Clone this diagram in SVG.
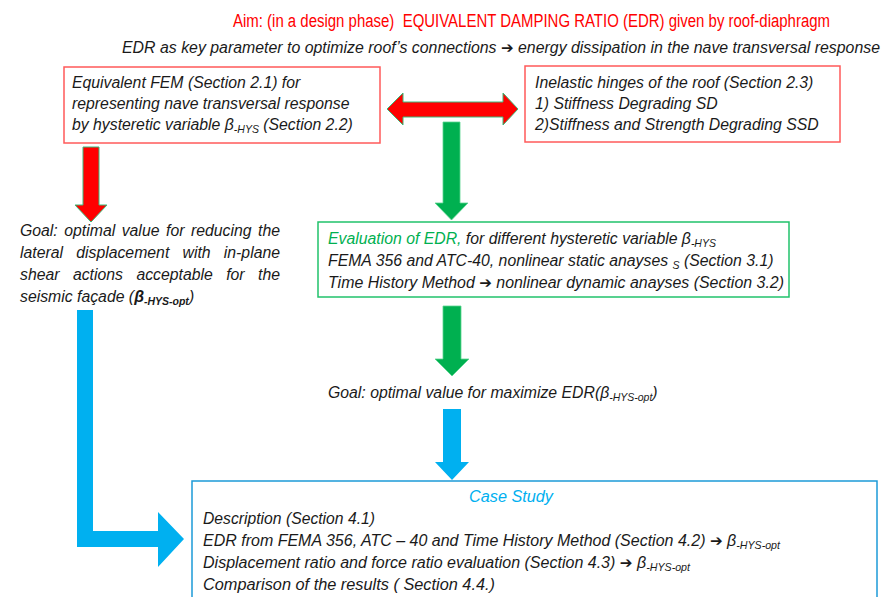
<svg xmlns="http://www.w3.org/2000/svg" width="882" height="597" viewBox="0 0 882 597">
<style>
text{font-family:"Liberation Sans",Arial,sans-serif;font-style:italic;font-size:15.8px;fill:#1a1a1a}
.title{font-style:normal;font-size:19px;fill:#ff0000}
.sub{font-size:10.5px}
.arr{font-family:"DejaVu Sans",sans-serif;font-style:normal;font-size:15px}
.green{fill:#00b050}
.blue{fill:#00b0f0}
.box-red{fill:#fff;stroke:#ff5a5a;stroke-width:1.5}
.box-green{fill:#fff;stroke:#21c26b;stroke-width:1.5}
.box-blue{fill:#fff;stroke:#1c9ad8;stroke-width:1.5}
.ar-red{fill:#ff0000;stroke:#3cb878;stroke-width:1}
.ar-green{fill:#00b050;stroke:#5ad690;stroke-width:0.8}
.ar-blue{fill:#00b0f0}
</style>
<rect width="882" height="597" fill="#fff"/>

<g id="title">
<text class="title" transform="translate(233,27) scale(0.788,1)" x="0" y="0">Aim: (in a design phase)&#160; EQUIVALENT DAMPING RATIO (EDR) given by roof-diaphragm</text>
<text x="122" y="53" font-size="16.5" textLength="758" lengthAdjust="spacingAndGlyphs">EDR as key parameter to optimize roof’s connections <tspan class="arr">➔</tspan> energy dissipation in the nave transversal response</text>
</g>

<g id="connectors">
<path class="ar-red" d="M387,109 L403,93 L403,102 L503,102 L503,93 L518,109 L503,125 L503,117 L403,117 L403,125 Z"/>
<path class="ar-green" d="M443,122 H460 V203 H468 L451.5,220 L435,203 H443 Z"/>
<path class="ar-red" d="M83,147 H99 V205 H107 L91,222 L75,205 H83 Z"/>
<path class="ar-green" d="M443,306 H461 V359 H469 L452,376 L435,359 H443 Z"/>
<path class="ar-blue" d="M443,409 H461 V462 H469 L452,480 L435,462 H443 Z"/>
<path class="ar-blue" d="M77,310 H93 V531 H158 V512 L184,539 L158,567 V547 H77 Z"/>
</g>

<g id="fem-box">
<rect class="box-red" x="64" y="67" width="316" height="76"/>
<text x="72" y="88">Equivalent FEM (Section 2.1) for</text>
<text x="72" y="109">representing nave transversal response</text>
<text x="72" y="130">by hysteretic variable β<tspan class="sub" dy="3">-HYS</tspan><tspan dy="-3"> (Section 2.2)</tspan></text>
</g>

<g id="hinges-box">
<rect class="box-red" x="525" y="66" width="315" height="76"/>
<text x="535" y="88">Inelastic hinges of the roof (Section 2.3)</text>
<text x="535" y="109">1) Stiffness Degrading SD</text>
<text x="535" y="130">2)Stiffness and Strength Degrading SSD</text>
</g>

<g id="goal-left">
<text y="236"><tspan x="20">Goal:</tspan><tspan x="64.3">optimal</tspan><tspan x="121.7">value</tspan><tspan x="166">for</tspan><tspan x="190.9">reducing</tspan><tspan x="258">the</tspan></text>
<text y="258"><tspan x="20">lateral</tspan><tspan x="76.2">displacement</tspan><tspan x="182.5">with</tspan><tspan x="223.8">in-plane</tspan></text>
<text y="280"><tspan x="20">shear</tspan><tspan x="72.9">actions</tspan><tspan x="136.4">acceptable</tspan><tspan x="226.2">for</tspan><tspan x="258">the</tspan></text>
<text x="20" y="302">seismic façade (<tspan font-weight="bold">β</tspan><tspan class="sub" font-weight="bold" dy="3">-HYS-opt</tspan><tspan dy="-3">)</tspan></text>
</g>

<g id="edr-box">
<rect class="box-green" x="318" y="222" width="471" height="75"/>
<text x="328" y="244"><tspan class="green">Evaluation of EDR,</tspan> for different hysteretic variable β<tspan class="sub" dy="3">-HYS</tspan></text>
<text x="328" y="266">FEMA 356 and ATC-40, nonlinear static anayses <tspan class="sub" dy="3">S</tspan><tspan dy="-3"> (Section 3.1)</tspan></text>
<text x="328" y="288" textLength="456" lengthAdjust="spacingAndGlyphs">Time History Method <tspan class="arr">➔</tspan> nonlinear dynamic anayses (Section 3.2)</text>
</g>

<g id="goal-mid">
<text x="328" y="398">Goal: optimal value for maximize EDR(β<tspan class="sub" dy="3">-HYS-opt</tspan><tspan dy="-3">)</tspan></text>
</g>

<g id="case-study">
<rect class="box-blue" x="192" y="481" width="685" height="130"/>
<text class="blue" x="511" y="502" text-anchor="middle" font-size="16.5" textLength="84" lengthAdjust="spacingAndGlyphs">Case Study</text>
<text x="203" y="524" font-size="16.5" textLength="172" lengthAdjust="spacingAndGlyphs">Description (Section 4.1)</text>
<text x="203" y="546" font-size="16.5" textLength="577" lengthAdjust="spacingAndGlyphs">EDR from FEMA 356, ATC – 40 and Time History Method (Section 4.2) <tspan class="arr">➔</tspan> β<tspan class="sub" dy="3">-HYS-opt</tspan></text>
<text x="203" y="568" font-size="16.5" textLength="487" lengthAdjust="spacingAndGlyphs">Displacement ratio and force ratio evaluation (Section 4.3) <tspan class="arr">➔</tspan> β<tspan class="sub" dy="3">-HYS-opt</tspan></text>
<text x="203" y="590" font-size="16.5" textLength="292" lengthAdjust="spacingAndGlyphs">Comparison of the results ( Section 4.4.)</text>
</g>
</svg>
